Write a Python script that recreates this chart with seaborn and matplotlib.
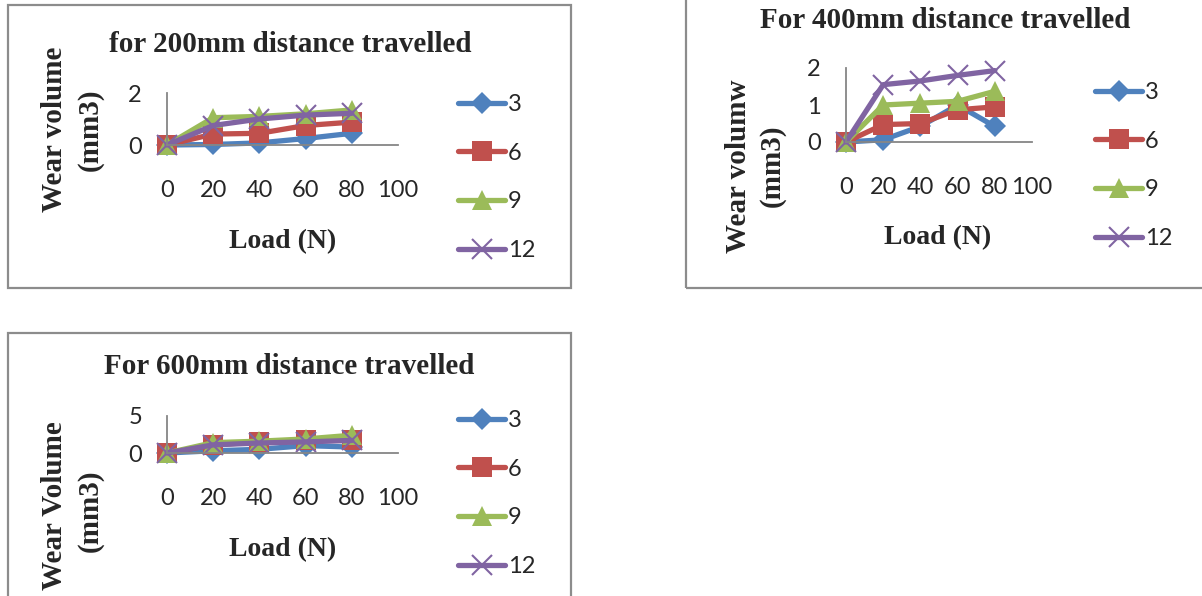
import matplotlib

matplotlib.use("Agg")
import matplotlib.pyplot as plt
import numpy as np
import pandas as pd
import seaborn as sns
from matplotlib.patches import Rectangle

W, H = 1202, 596

loads = [0, 20, 40, 60, 80]
series = ["3", "6", "9", "12"]

wear_200_3 = [0, 0.02, 0.08, 0.25, 0.45]
wear_200_6 = [0, 0.42, 0.45, 0.75, 0.88]
wear_200_9 = [0, 1.05, 1.1, 1.2, 1.35]
wear_200_12 = [0, 0.75, 1.0, 1.15, 1.22]

wear_400_3 = [0, 0.06, 0.42, 1.0, 0.42]
wear_400_6 = [0, 0.47, 0.5, 0.87, 0.95]
wear_400_9 = [0, 1.0, 1.05, 1.1, 1.37]
wear_400_12 = [0, 1.55, 1.65, 1.8, 1.93]

wear_600_3 = [0, 0.3, 0.5, 1.0, 0.8]
wear_600_6 = [0, 1.1, 1.5, 1.75, 1.8]
wear_600_9 = [0, 1.4, 1.6, 1.9, 2.4]
wear_600_12 = [0, 1.1, 1.35, 1.5, 1.7]

colors = {"3": "#4F81BD", "6": "#C0504D", "9": "#9BBB59", "12": "#8064A2"}
markers = {"3": "D", "6": "s", "9": "^", "12": "x"}
marker_sizes = {"3": 11, "6": 14, "9": 14, "12": 14}

SERIF = "Liberation Serif"
SANS = "Lato"


def fx(x):
    return x / W


def fy(y):
    return 1 - y / H


def draw_chart(fig, box, ylim, yticks, values):
    left, right, y0, ytop = box
    ax = fig.add_axes([fx(left), fy(y0), fx(right) - fx(left), fy(ytop) - fy(y0)])
    frame = pd.DataFrame({"load": loads})
    for name, vals in zip(series, values):
        frame[name] = vals
    for name in series:
        sns.lineplot(data=frame, x="load", y=name, color=colors[name], marker=markers[name],
                     markersize=marker_sizes[name], markeredgecolor=colors[name],
                     markeredgewidth=1.5 if name == "12" else 0, lw=3.8,
                     sort=False, errorbar=None, clip_on=False, ax=ax)
    ax.set_xlim(0, 100)
    ax.set_ylim(*ylim)
    ax.set_xticks([0, 20, 40, 60, 80, 100])
    ax.set_yticks(yticks)
    ax.set_xlabel("")
    ax.set_ylabel("")
    for side in ("top", "right"):
        ax.spines[side].set_visible(False)
    for side in ("left", "bottom"):
        ax.spines[side].set_color("#868686")
        ax.spines[side].set_linewidth(1.3)
    ax.tick_params(axis="x", length=5, width=1.3, color="#868686", pad=20, labelsize=17)
    ax.tick_params(axis="y", length=5, width=1.3, color="#868686", pad=13, labelsize=17)
    for lab in ax.get_xticklabels() + ax.get_yticklabels():
        lab.set_fontfamily(SANS)
    ax.set_facecolor("none")
    return ax


def add_legend(fig, ax, x, y):
    ax.legend(handles=list(ax.lines[:4]), labels=series, loc="upper left",
              bbox_to_anchor=(fx(x), fy(y)), bbox_transform=fig.transFigure,
              frameon=False, borderpad=0, borderaxespad=0, handlelength=2.0,
              handletextpad=0.1, labelspacing=1.17, prop={"family": SANS, "size": 17})


sns.set_theme(style="white")
fig = plt.figure(figsize=(W / 100, H / 100), dpi=100)
fig.patch.set_facecolor("white")

box_kw = dict(transform=fig.transFigure, fill=False, ec="#8c8c8c", lw=1.6)
fig.add_artist(Rectangle((fx(8), fy(288)), fx(571) - fx(8), fy(5) - fy(288), **box_kw))
fig.add_artist(Rectangle((fx(686), fy(288)), 0.5, 1.0, **box_kw))
fig.add_artist(Rectangle((fx(8), -0.5), fx(571) - fx(8), fy(333) + 0.5, **box_kw))

title_kw = dict(family=SERIF, weight="bold", size=21, ha="center", va="center")
label_kw = dict(family=SERIF, weight="bold", size=20, ha="center", va="center")
ylab_kw = dict(family=SERIF, weight="bold", size=21, ha="center", va="center", rotation=90)

# chart 1: 200mm
ax1 = draw_chart(fig, (167, 398, 145, 93), (0, 2), [0, 2],
                 [wear_200_3, wear_200_6, wear_200_9, wear_200_12])
add_legend(fig, ax1, 458, 94)
fig.text(fx(290), fy(45), "for 200mm distance travelled", **title_kw)
fig.text(fx(283), fy(242), "Load (N)", **label_kw)
fig.text(fx(55), fy(129), "Wear volume", **ylab_kw)
fig.text(fx(90), fy(130), "(mm3)", **ylab_kw)

# chart 2: 400mm
ax2 = draw_chart(fig, (846, 1032, 142, 68), (0, 2), [0, 1, 2],
                 [wear_400_3, wear_400_6, wear_400_9, wear_400_12])
add_legend(fig, ax2, 1095, 82)
fig.text(fx(945), fy(20), "For 400mm distance travelled", **title_kw)
fig.text(fx(938), fy(238), "Load (N)", **label_kw)
fig.text(fx(738), fy(166), "Wear volumw", **ylab_kw)
fig.text(fx(772), fy(166), "(mm3)", **ylab_kw)

# chart 3: 600mm
ax3 = draw_chart(fig, (167, 398, 453, 416), (0, 5), [0, 5],
                 [wear_600_3, wear_600_6, wear_600_9, wear_600_12])
add_legend(fig, ax3, 458, 410)
fig.text(fx(289), fy(367), "For 600mm distance travelled", **title_kw)
fig.text(fx(283), fy(550), "Load (N)", **label_kw)
fig.text(fx(55), fy(506), "Wear Volume", **ylab_kw)
fig.text(fx(90), fy(511), "(mm3)", **ylab_kw)

fig.savefig("out.png", dpi=100)
